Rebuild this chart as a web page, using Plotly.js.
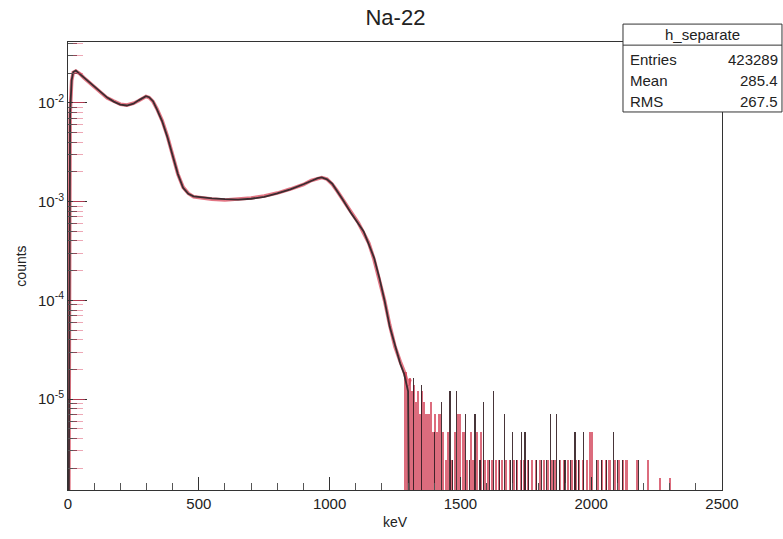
<!DOCTYPE html>
<html>
<head>
<meta charset="utf-8">
<script src="https://cdn.plot.ly/plotly-3.0.1.min.js"></script>
<style>html,body{margin:0;padding:0;background:#fff;}#chart{width:783px;height:539px;}</style>
</head>
<body>
<div id="chart"></div>
<script>
// Smooth part of the spectrum (keV, normalised counts)
var specE = [2, 8, 14, 20, 30, 45, 60, 80, 100, 125, 150, 175, 200, 225, 250, 270, 285, 298, 310, 325, 340, 360, 380, 400, 420, 440, 460, 480, 500, 550, 600, 650, 700, 750, 800, 850, 900, 930, 955, 970, 990, 1010, 1030, 1050, 1080, 1110, 1130, 1150, 1170, 1190, 1210, 1230, 1250, 1270, 1285, 1300, 1308];
var darkSpec = [1e-7, 0.008, 0.017, 0.0205, 0.0212, 0.0196, 0.0181, 0.0163, 0.0146, 0.0128, 0.0113, 0.0103, 0.0096, 0.0094, 0.0098, 0.0106, 0.0113, 0.0117, 0.0114, 0.0104, 0.0086, 0.0065, 0.0045, 0.0029, 0.0019, 0.00138, 0.00120, 0.00113, 0.00111, 0.00108, 0.00106, 0.00105, 0.00107, 0.00112, 0.00121, 0.00133, 0.00150, 0.00163, 0.00173, 0.00176, 0.00168, 0.00152, 0.00128, 0.00105, 0.00078, 0.00060, 0.00050, 0.00037, 0.00027, 0.00017, 0.00010, 5.4e-5, 3.5e-5, 2.3e-5, 1.8e-5, 1.2e-5, 1e-8];
var redSpec  = [1e-7, 0.0075, 0.0168, 0.0203, 0.0210, 0.0197, 0.0180, 0.0162, 0.0147, 0.0127, 0.0112, 0.0104, 0.0097, 0.0095, 0.0099, 0.0105, 0.0112, 0.0116, 0.0113, 0.0103, 0.0087, 0.0066, 0.0046, 0.0030, 0.0019, 0.00140, 0.00121, 0.00112, 0.00110, 0.00106, 0.00104, 0.00106, 0.00109, 0.00114, 0.00122, 0.00134, 0.00149, 0.00164, 0.00172, 0.00175, 0.00169, 0.00150, 0.00127, 0.00104, 0.00080, 0.00061, 0.00049, 0.00038, 0.00026, 0.00016, 0.00010, 5.6e-5, 3.4e-5, 2.4e-5, 1.9e-5, 1.4e-5, 1.6e-5];

// Sparse high-energy tail (single bins)
var redTailE = [1290, 1298, 1306, 1314, 1322, 1330, 1338, 1346, 1354, 1362, 1370, 1378, 1386, 1394, 1402, 1410, 1420, 1432, 1445, 1452, 1466, 1478, 1490, 1500, 1512, 1525, 1540, 1550, 1565, 1580, 1592, 1605, 1620, 1635, 1648, 1660, 1675, 1690, 1705, 1718, 1730, 1745, 1760, 1775, 1790, 1805, 1820, 1835, 1850, 1862, 1880, 1895, 1910, 1925, 1940, 1955, 1970, 1985, 1995, 2003, 2025, 2040, 2055, 2070, 2090, 2105, 2120, 2135, 2175, 2217, 2263, 2301];
var redTailV = [1.9e-5, 1.4e-5, 1.65e-5, 1.2e-5, 1.4e-5, 9.4e-6, 1.2e-5, 7.1e-6, 1.2e-5, 9.4e-6, 7.1e-6, 7.1e-6, 9.4e-6, 4.7e-6, 7.1e-6, 4.7e-6, 7.1e-6, 4.7e-6, 2.4e-6, 4.7e-6, 2.4e-6, 4.7e-6, 7.1e-6, 7.1e-6, 4.7e-6, 2.4e-6, 4.7e-6, 2.4e-6, 4.7e-6, 4.7e-6, 2.4e-6, 2.4e-6, 2.4e-6, 2.4e-6, 2.4e-6, 2.4e-6, 2.4e-6, 2.4e-6, 2.4e-6, 2.4e-6, 2.4e-6, 2.4e-6, 2.4e-6, 2.4e-6, 2.4e-6, 2.4e-6, 2.4e-6, 2.4e-6, 2.4e-6, 2.4e-6, 2.4e-6, 2.4e-6, 2.4e-6, 2.4e-6, 2.4e-6, 2.4e-6, 2.4e-6, 2.4e-6, 4.7e-6, 4.7e-6, 2.4e-6, 2.4e-6, 2.4e-6, 2.4e-6, 2.4e-6, 2.4e-6, 2.4e-6, 2.4e-6, 2.4e-6, 2.4e-6, 1.6e-6, 1.6e-6];
var darkTailE = [1320, 1352, 1400, 1428, 1460, 1470, 1486, 1518, 1535, 1556, 1575, 1588, 1610, 1628, 1650, 1668, 1690, 1700, 1715, 1734, 1747, 1760, 1790, 1810, 1830, 1843, 1855, 1868, 1880, 1900, 1920, 1938, 1950, 1970, 2020, 2040, 2060, 2085, 2100, 2120, 2180];
var darkTailV = [1.65e-5, 1.4e-5, 4.7e-6, 9.4e-6, 1.2e-5, 2.4e-6, 1.2e-5, 7.1e-6, 2.4e-6, 7.1e-6, 2.4e-6, 9.4e-6, 2.4e-6, 1.2e-5, 2.4e-6, 7.1e-6, 2.4e-6, 4.7e-6, 2.4e-6, 4.7e-6, 4.7e-6, 2.4e-6, 2.4e-6, 2.4e-6, 2.4e-6, 7.1e-6, 2.4e-6, 7.1e-6, 2.4e-6, 2.4e-6, 2.4e-6, 4.7e-6, 2.4e-6, 4.7e-6, 2.4e-6, 2.4e-6, 2.4e-6, 4.7e-6, 2.4e-6, 2.4e-6, 2.4e-6];

var yTickVals = [1e-5, 1e-4, 1e-3, 1e-2];
var yTickText = ['10<sup>-5</sup>', '10<sup>-4</sup>', '10<sup>-3</sup>', '10<sup>-2</sup>'];
var xTickVals = [0, 500, 1000, 1500, 2000, 2500];
var statsLabels = ['Entries', 'Mean', 'RMS'];
var statsValues = ['423289', '285.4', '267.5'];

var FONT = 'Liberation Sans, Arial, Helvetica, sans-serif';
var TXT = '#222';

var traces = [
  {x: specE, y: redSpec, type: 'scatter', mode: 'lines', line: {color: 'rgba(215,60,80,0.7)', width: 3.6}, hoverinfo: 'skip'},
  {x: redTailE, y: redTailV, type: 'bar', width: 8, marker: {color: 'rgba(205,45,70,0.7)', line: {width: 0}}, hoverinfo: 'skip'},
  {x: darkTailE, y: darkTailV, type: 'bar', width: 4.5, marker: {color: 'rgba(45,25,30,0.88)', line: {width: 0}}, hoverinfo: 'skip'},
  {x: specE, y: darkSpec, type: 'scatter', mode: 'lines', line: {color: '#3b2c30', width: 1.8}, hoverinfo: 'skip'},
  {x: [], y: [], yaxis: 'y2', type: 'scatter'}
];

var shapes = [
  {type: 'rect', xref: 'paper', yref: 'paper', x0: 0.8486, x1: 1.0917, y0: 0.8438, y1: 1.040, line: {color: '#333', width: 1}, fillcolor: '#fff', layer: 'above'},
  {type: 'line', xref: 'paper', yref: 'paper', x0: 0.8486, x1: 1.0917, y0: 0.993, y1: 0.993, line: {color: '#333', width: 1}, layer: 'above'}
];
var annotations = [
  {xref: 'paper', yref: 'paper', x: 0.970, y: 1.0165, text: 'h_separate', showarrow: false, xanchor: 'center', yanchor: 'middle', font: {family: FONT, size: 15, color: TXT}}
];
var rowY = [0.962, 0.915, 0.868];
for (var i = 0; i < statsLabels.length; i++) {
  annotations.push({xref: 'paper', yref: 'paper', x: 0.856, y: rowY[i], text: statsLabels[i], showarrow: false, xanchor: 'left', yanchor: 'middle', font: {family: FONT, size: 15, color: TXT}});
  annotations.push({xref: 'paper', yref: 'paper', x: 1.089, y: rowY[i], text: statsValues[i], showarrow: false, xanchor: 'right', yanchor: 'middle', font: {family: FONT, size: 15, color: TXT}});
}

var layout = {
  width: 783, height: 539,
  margin: {l: 68, r: 61, t: 42, b: 49, pad: 0},
  paper_bgcolor: '#fff', plot_bgcolor: '#fff',
  showlegend: false,
  barmode: 'overlay',
  bargap: 0,
  font: {family: FONT, color: TXT, size: 15},
  title: {text: 'Na-22', x: 0.505, xanchor: 'center', y: 0.967, yanchor: 'middle', font: {family: FONT, size: 22, color: TXT}},
  xaxis: {
    range: [0, 2500], showgrid: false, zeroline: false,
    showline: true, linecolor: '#333', linewidth: 1, mirror: true,
    ticks: 'inside', ticklen: 13, tickcolor: '#333', tickwidth: 1,
    tickvals: xTickVals, ticktext: xTickVals.map(String),
    tickfont: {family: FONT, size: 15, color: TXT},
    minor: {ticks: 'inside', ticklen: 7, dtick: 100, tickcolor: '#555', tickwidth: 1, showgrid: false},
    title: {text: 'keV', font: {family: FONT, size: 14, color: TXT}, standoff: 6}
  },
  yaxis: {
    type: 'log', range: [-5.919, -1.384], showgrid: false, zeroline: false,
    showline: true, linecolor: '#333', linewidth: 1, mirror: true,
    ticks: 'inside', ticklen: 19, tickcolor: '#333', tickwidth: 1,
    tickvals: yTickVals, ticktext: yTickText,
    tickfont: {family: FONT, size: 15, color: TXT},
    minor: {ticks: 'inside', ticklen: 9, dtick: 'D1', tickcolor: '#555', tickwidth: 1, showgrid: false},
    title: {text: 'counts', font: {family: FONT, size: 14, color: TXT}, standoff: 8}
  },
  yaxis2: {
    type: 'log', range: [-5.919, -1.384], overlaying: 'y', anchor: 'free', position: 0.006, side: 'left',
    showgrid: false, zeroline: false, showline: false, showticklabels: false,
    ticks: 'inside', ticklen: 12, tickcolor: 'rgba(215,60,90,0.6)', tickwidth: 1,
    tickvals: yTickVals,
    minor: {ticks: 'inside', ticklen: 10, dtick: 'D1', tickcolor: 'rgba(215,60,90,0.45)', tickwidth: 1, showgrid: false}
  },
  shapes: shapes,
  annotations: annotations
};

Plotly.newPlot('chart', traces, layout, {staticPlot: true, displayModeBar: false});
</script>
</body>
</html>
